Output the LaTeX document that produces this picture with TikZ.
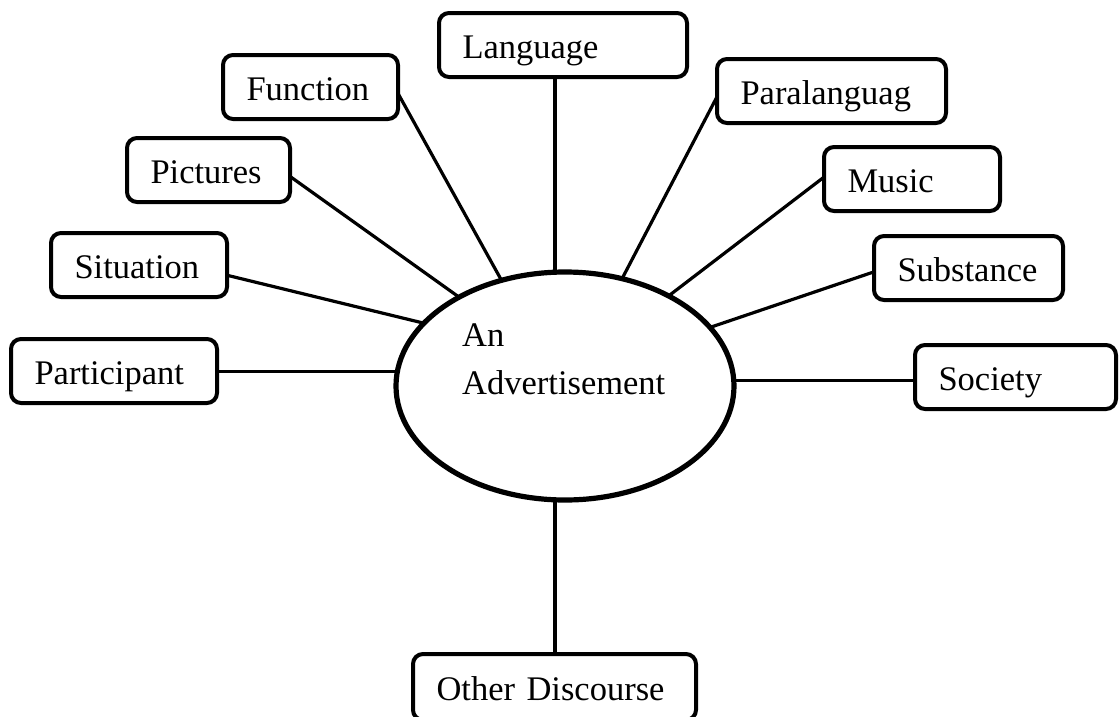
\documentclass[tikz,border=0pt]{standalone}
\usepackage{fontspec}
\setmainfont{Liberation Serif}
\usetikzlibrary{shapes.geometric,calc}
\begin{document}
\begin{tikzpicture}[x=1pt,y=-1pt,
  box/.style={draw, line width=4pt, rounded corners=10pt, anchor=north west,
    minimum height=64pt, inner xsep=23.5pt, inner ysep=0pt, outer sep=0pt,
    text height=30pt, text depth=4pt, align=left,
    font=\fontsize{34.5}{40}\selectfont},
  link/.style={line width=3.2pt}]
\useasboundingbox (0,0) rectangle (1120,716);
% central ellipse
\node[draw, ellipse, line width=5.2pt, minimum width=338pt, minimum height=228pt, inner sep=0pt, outer sep=0pt] (adv) at (565,386) {};
\node[anchor=base west, align=left, inner sep=0pt, font=\fontsize{34.5}{48}\selectfont] (advtxt) at (462,394) {An\\Advertisement};
% boxes
\node[box, text width=201pt] (lang) at (439,13) {Language};
\node[box, text width=128pt] (func) at (223,55) {Function};
\node[box, text width=116pt] (pict) at (127,138) {Pictures};
\node[box, text width=129pt] (situ) at (51,233) {Situation};
\node[box, text width=159pt] (part) at (11,339) {Participant};
\node[box, text width=182pt] (para) at (717,59) {Paralanguag};
\node[box, text width=129pt] (music) at (824,147) {Music};
\node[box, text width=142pt] (subs) at (874,236) {Substance};
\node[box, text width=154pt] (soc) at (915,345) {Society};
\node[box, text width=236pt, minimum height=66pt] (other) at (413,654) {Other Discourse};
% connectors
\draw[link] (lang.south -| adv.95.5) -- (adv.95.5);
\draw[link] ($(func.north east)!0.6!(func.south east)$) -- (adv.121.2);
\draw[link] ($(pict.north east)!0.6!(pict.south east)$) -- (adv.140.2);
\draw[link] ($(situ.north east)!0.66!(situ.south east)$) -- (adv.156.7);
\draw[link] (adv.175.3 -| part.east) -- (adv.175.3);
\draw[link] ($(para.north west)!0.59!(para.south west)$) -- (adv.62.4);
\draw[link] ($(music.north west)!0.47!(music.south west)$) -- (adv.41.2);
\draw[link] ($(subs.north west)!0.56!(subs.south west)$) -- (adv.22.9);
\draw[link] (adv.2.7) -- (adv.2.7 -| soc.west);
\draw[link] (adv.265.5) -- (adv.265.5 |- other.north);
\end{tikzpicture}
\end{document}
